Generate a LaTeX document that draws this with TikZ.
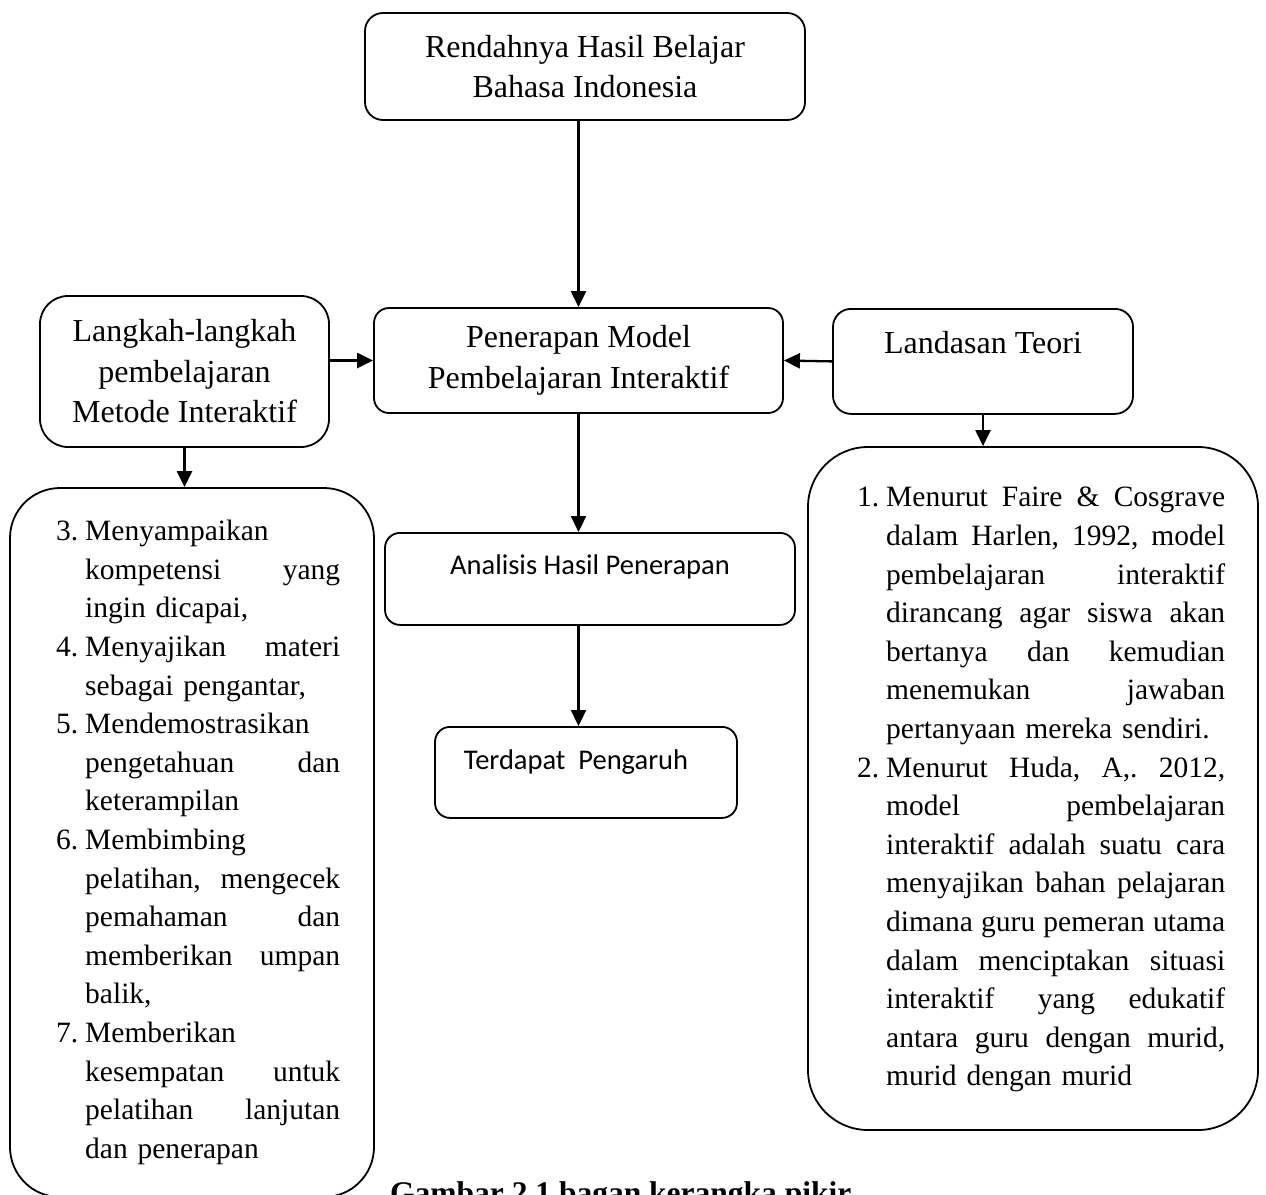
\documentclass[tikz,border=0pt]{standalone}
\usepackage{fontspec}
\setmainfont{Liberation Serif}
\newfontfamily\calibrifont{Carlito}
\usetikzlibrary{arrows.meta}
\usetikzlibrary{positioning}

\hbadness=10000
\frenchspacing
% list lines: number + justified text, or plain text (#1 = text column width)
\newcommand{\jbox}[2]{\hbox to #1{\spaceskip=0.25em plus 1fil\relax#2}}
\newcommand{\numline}[3][255pt]{\makebox[29pt][l]{#2}\jbox{#1}{#3}}
\newcommand{\numword}[2]{\makebox[29pt][l]{#1}#2}
\newcommand{\fullline}[2][255pt]{\hspace*{29pt}\jbox{#1}{#2}}
\newcommand{\lastline}[1]{\hspace*{29pt}#1}

\begin{document}
\begin{tikzpicture}[x=1pt,y=-1pt,
  box/.style={draw,line width=1.8pt,rounded corners=18pt,align=center,
    font=\fontsize{32}{40.5}\selectfont},
  sansbox/.style={box,rounded corners=15pt,anchor=north,inner ysep=0pt,
    font=\calibrifont\fontsize{28.5}{34}\selectfont},
  bigbox/.style={draw,line width=1.8pt,inner sep=0pt},
  listtext/.style={inner sep=0pt,align=left,anchor=north west,
    font=\fontsize{29.5}{38.6}\selectfont},
  arr/.style={line width=2.3pt,-{Triangle[length=16pt,width=15pt]}}]
\useasboundingbox (0,0) rectangle (1266,1194);

% Boxes of the main line
\node[box,minimum width=440pt,minimum height=107pt] (top) at (585,66.5)
  {Rendahnya Hasil Belajar\\Bahasa Indonesia};
\node[box,rounded corners=15pt,minimum width=409pt,minimum height=105pt] (pen) at (578.5,360.5)
  {Penerapan Model\\Pembelajaran Interaktif};
\node[sansbox,minimum width=410pt,text height=42pt,text depth=50pt] (anal) at (590,532)
  {Analisis Hasil Penerapan};
\node[sansbox,minimum width=302pt,text height=43pt,text depth=48pt] (hasil) at (586,726)
  {Terdapat~~Pengaruh\hspace*{20pt}};

% Side boxes
\node[box,rounded corners=28pt,minimum width=289pt,minimum height=151pt] (lang) at (184.5,371.5)
  {Langkah-langkah\\pembelajaran\\Metode Interaktif};
\node[box,anchor=north,inner ysep=0pt,minimum width=300pt,text height=45pt,text depth=60pt] (teori) at (983,308)
  {Landasan Teori};

% Big boxes with the lists
\node[bigbox,rounded corners=50pt,minimum width=364pt,minimum height=709pt] (leftbox) at (192,842.5) {};
\node[bigbox,rounded corners=60pt,minimum width=450pt,minimum height=683pt] (rightbox) at (1033,788.5) {};

\node[listtext,text width=284pt] (steps) at (56,520) {%
  \numword{3.}{Menyampaikan}\\
  \fullline{kompetensi yang}\\
  \lastline{ingin dicapai,}\\
  \numline{4.}{Menyajikan materi}\\
  \lastline{sebagai pengantar,}\\
  \numword{5.}{Mendemostrasikan}\\
  \fullline{pengetahuan dan}\\
  \lastline{keterampilan}\\
  \numword{6.}{Membimbing}\\
  \fullline{pelatihan, mengecek}\\
  \fullline{pemahaman dan}\\
  \fullline{memberikan umpan}\\
  \lastline{balik,}\\
  \numword{7.}{Memberikan}\\
  \fullline{kesempatan untuk}\\
  \fullline{pelatihan lanjutan}\\
  \lastline{dan penerapan}};

\node[listtext,text width=368pt] (theory) at (857,487) {%
  \numline[339pt]{1.}{Menurut Faire \& Cosgrave}\\
  \fullline[339pt]{dalam Harlen, 1992, model}\\
  \fullline[339pt]{pembelajaran interaktif}\\
  \fullline[339pt]{dirancang agar siswa akan}\\
  \fullline[339pt]{bertanya dan kemudian}\\
  \fullline[339pt]{menemukan jawaban}\\
  \lastline{pertanyaan mereka sendiri.}\\
  \numline[339pt]{2.}{Menurut Huda, A,. 2012,}\\
  \fullline[339pt]{model pembelajaran}\\
  \fullline[339pt]{interaktif adalah suatu cara}\\
  \fullline[339pt]{menyajikan bahan pelajaran}\\
  \fullline[339pt]{dimana guru pemeran utama}\\
  \fullline[339pt]{dalam menciptakan situasi}\\
  \fullline[339pt]{interaktif\hspace{10pt} yang edukatif}\\
  \fullline[339pt]{antara guru dengan murid,}\\
  \lastline{murid dengan murid}};

% Arrows
\draw[arr] (pen.north |- top.south) -- (pen.north);
\draw[arr] (lang.east |- pen.west) -- (pen.west);
\draw[arr] (teori.west) -- (pen.east);
\draw[arr] (pen.south) -- (pen.south |- anal.north);
\draw[arr] (pen.south |- anal.south) -- (pen.south |- hasil.north);
\draw[arr] (lang.south) -- (lang.south |- leftbox.north);
\draw[arr] (teori.south) -- (teori.south |- rightbox.north);

% Caption
\node[font=\bfseries\fontsize{31.5}{38}\selectfont,anchor=base west,inner sep=0pt] (caption) at (390,1203)
  {Gambar 2.1 bagan kerangka pikir};
\end{tikzpicture}
\end{document}
